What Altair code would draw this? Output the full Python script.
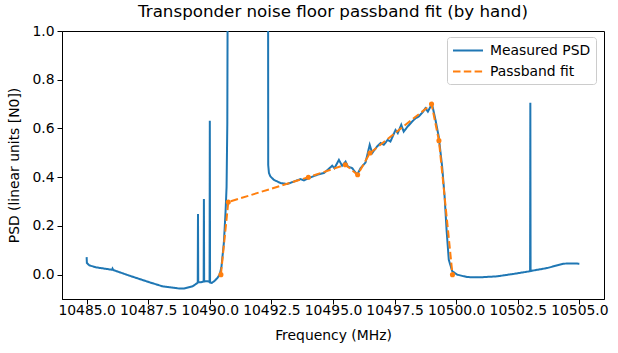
import altair as alt
import pandas as pd

# Measured PSD (frequency in MHz, linear units of N0)
meas_freq = [
    10485.00, 10485.01, 10485.11, 10485.38, 10486.03, 10486.05, 10486.08, 10486.73, 10487.54,
    10488.08, 10488.76, 10488.94, 10489.30, 10489.50,
    10489.51, 10489.52, 10489.53,
    10489.64,
    10489.75, 10489.76, 10489.77,
    10489.91,
    10489.99, 10490.00, 10490.01,
    10490.08, 10490.20, 10490.32, 10490.40, 10490.47, 10490.57, 10490.64, 10490.68,
    10490.71, 10490.72, 10490.74, 10490.90, 10491.50, 10492.20, 10492.36,
    10492.37, 10492.40, 10492.46, 10492.60, 10492.87, 10493.14, 10493.41, 10493.68,
    10493.82, 10494.09, 10494.36, 10494.63, 10494.76, 10494.97, 10495.06, 10495.24,
    10495.37, 10495.51, 10495.60, 10495.78, 10495.98, 10496.12, 10496.32, 10496.49,
    10496.59, 10496.79, 10496.93, 10497.06, 10497.22, 10497.33, 10497.54, 10497.63,
    10497.77, 10497.87, 10498.03, 10498.21, 10498.35, 10498.48, 10498.66, 10498.75,
    10498.85, 10498.96, 10499.02, 10499.16, 10499.29, 10499.43, 10499.53, 10499.61,
    10499.70, 10499.84, 10500.04, 10500.44, 10500.98, 10501.66, 10502.33,
    10503.00, 10503.01, 10503.02,
    10503.69, 10504.36, 10504.70, 10505.00,
]
meas_psd = [
    0.072, 0.048, 0.038, 0.030, 0.020, 0.025, 0.019, -0.004, -0.031,
    -0.048, -0.057, -0.057, -0.048, -0.034,
    -0.033, 0.249, -0.032,
    -0.031,
    -0.028, 0.310, -0.028,
    -0.027,
    -0.030, 0.632, -0.032,
    -0.034, -0.025, -0.012, 0.000, 0.030, 0.130, 0.260, 0.360,
    0.620, 1.000, 2.000, 3.200, 3.500, 3.200, 2.000,
    0.450, 0.417, 0.403, 0.389, 0.376, 0.372, 0.382, 0.392,
    0.387, 0.399, 0.410, 0.417, 0.428, 0.447, 0.437, 0.471,
    0.447, 0.464, 0.444, 0.437, 0.410, 0.437, 0.460, 0.533,
    0.499, 0.526, 0.540, 0.533, 0.553, 0.546, 0.594, 0.581,
    0.615, 0.587, 0.608, 0.628, 0.642, 0.649, 0.669, 0.683,
    0.669, 0.690, 0.700, 0.635, 0.567, 0.444, 0.321, 0.184,
    0.061, 0.014, 0.000, -0.010, -0.011, -0.007, 0.003,
    0.014, 0.706, 0.015,
    0.027, 0.045, 0.046, 0.045,
]

# Hand-placed passband fit knots
fit_freq = [10490.45, 10490.75, 10494.0, 10495.5, 10496.0, 10496.5, 10499.0, 10499.3, 10499.85]
fit_psd = [0.0, 0.298, 0.40, 0.451, 0.41, 0.499, 0.70, 0.55, 0.0]

series_names = ["Measured PSD", "Passband fit"]
x_ticks = [10485.0, 10487.5, 10490.0, 10492.5, 10495.0, 10497.5, 10500.0, 10502.5, 10505.0]
y_ticks = [0.0, 0.2, 0.4, 0.6, 0.8, 1.0]

rows = []
for i, (f, p) in enumerate(zip(meas_freq, meas_psd)):
    rows.append({"freq": f, "psd": p, "series": series_names[0], "idx": i})
for i, (f, p) in enumerate(zip(fit_freq, fit_psd)):
    rows.append({"freq": f, "psd": p, "series": series_names[1], "idx": i})
df = pd.DataFrame(rows)
fit_df = pd.DataFrame({"freq": fit_freq, "psd": fit_psd})

FONT = "DejaVu Sans"
BLUE = "#1f77b4"
ORANGE = "#ff7f0e"

x_enc = alt.X("freq:Q", scale=alt.Scale(domain=[10484, 10506], nice=False, zero=False),
              axis=alt.Axis(values=x_ticks, format=".1f", title="Frequency (MHz)"))
y_enc = alt.Y("psd:Q", scale=alt.Scale(domain=[-0.1, 1.0], nice=False, zero=False),
              axis=alt.Axis(values=y_ticks, format=".1f", title="PSD (linear units [N0])"))

leg = alt.Legend(orient="none", legendX=385, legendY=6)

lines = alt.Chart(df).mark_line(clip=True, strokeWidth=2).encode(
    x=x_enc,
    y=y_enc,
    color=alt.Color("series:N", title=None,
                    scale=alt.Scale(domain=series_names, range=[BLUE, ORANGE]),
                    legend=leg),
    strokeDash=alt.StrokeDash("series:N", title=None,
                              scale=alt.Scale(domain=series_names, range=[[1, 0], [7.5, 3.3]]),
                              legend=leg),
    order=alt.Order("idx:Q"),
)

points = alt.Chart(fit_df).mark_circle(size=26, color=ORANGE, opacity=1, clip=True).encode(
    x="freq:Q",
    y="psd:Q",
)

chart = alt.layer(lines, points).properties(
    width=542,
    height=268,
    autosize=alt.AutoSizeParams(type="none"),
    padding={"left": 62, "top": 31, "right": 14, "bottom": 54},
    title=alt.TitleParams("Transponder noise floor passband fit (by hand)", font=FONT,
                          fontSize=16.7, fontWeight="normal", color="black",
                          anchor="middle", offset=3, frame="group"),
).configure_view(
    stroke="black", strokeWidth=1
).configure_axis(
    grid=False, domainColor="black", domainWidth=1, tickColor="black", tickSize=5, tickWidth=1,
    labelFont=FONT, labelFontSize=13.9, labelColor="black",
    titleFont=FONT, titleFontSize=13.9, titleColor="black", titleFontWeight="normal",
).configure_axisX(labelPadding=-1, titlePadding=12).configure_axisY(
    labelPadding=3, titlePadding=10
).configure_legend(
    symbolType="M-1,0L3,0", symbolSize=225, symbolStrokeWidth=2, labelFont=FONT, labelFontSize=13.9,
    labelColor="black", strokeColor="#cccccc", fillColor="rgba(255,255,255,0.8)", cornerRadius=3,
    padding=5, rowPadding=5, labelOffset=21,
)

chart.save("out.html", embed_options={"renderer": "svg", "actions": False})
